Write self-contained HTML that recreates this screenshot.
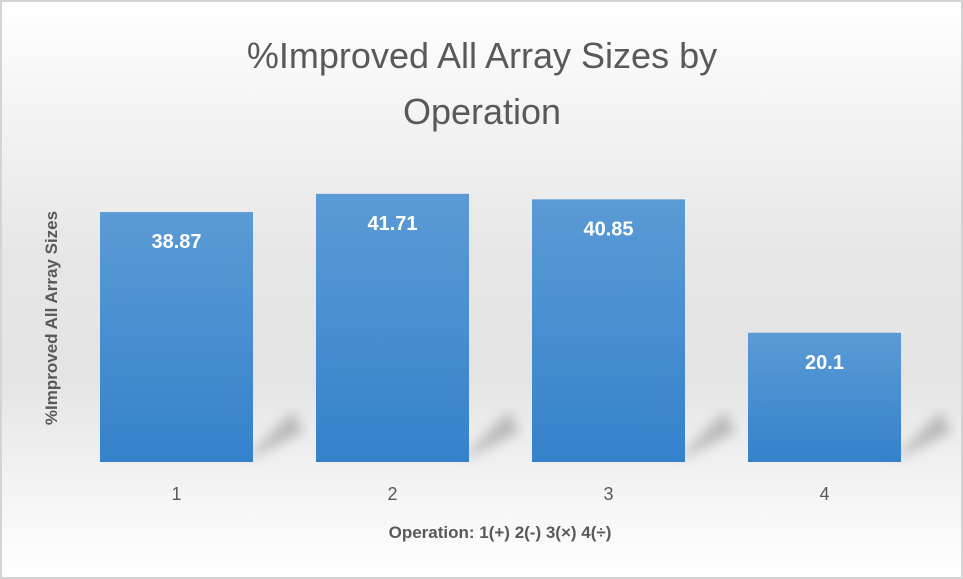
<!DOCTYPE html>
<html><head><meta charset="utf-8"><style>
html,body{margin:0;padding:0;}
body{width:963px;height:579px;overflow:hidden;font-family:"Liberation Sans",sans-serif;}
#frame{position:absolute;left:0;top:0;width:959px;height:575px;border:2px solid #d4d4d4;
background:linear-gradient(to bottom,#ffffff 0%,#f6f6f6 15%,#e6e6e6 45%,#e4e4e4 65%,#f4f4f4 85%,#ffffff 100%);}
</style></head><body>
<div id="frame"></div>
<svg id="chart" width="963" height="579" style="position:absolute;left:0;top:0">
<defs>
<linearGradient id="barg" x1="0" y1="0" x2="0" y2="1"><stop offset="0" stop-color="#5b9bd5"/><stop offset="1" stop-color="#3581cb"/></linearGradient>
<linearGradient id="shadowg" x1="0" y1="0" x2="0" y2="1"><stop offset="0" stop-color="#000" stop-opacity="0"/><stop offset="0.6" stop-color="#000" stop-opacity="0.22"/><stop offset="1" stop-color="#000" stop-opacity="0.05"/></linearGradient>
<filter id="blur"><feGaussianBlur stdDeviation="6"/></filter>
</defs>
<text x="482" y="68" text-anchor="middle" font-size="36" fill="#595959">%Improved All Array Sizes by</text>
<text x="482" y="124" text-anchor="middle" font-size="36" fill="#595959">Operation</text>
<text transform="translate(57,318) rotate(-90)" text-anchor="middle" font-size="17" font-weight="bold" fill="#595959">%Improved All Array Sizes</text>
<text x="500" y="538" text-anchor="middle" font-size="17" font-weight="bold" fill="#595959">Operation: 1(+) 2(-) 3(×) 4(÷)</text>
<g id="shadows"></g>
<g id="bars"></g>
</svg>
<script>
const categories = ["1","2","3","4"];
const values = [38.87, 41.71, 40.85, 20.1];
const valueLabels = ["38.87","41.71","40.85","20.1"];
const baseY = 462, pxPerUnit = 6.43;
const plotLeft = 100, slot = 216, barW = 153;
function xPos(i){return plotLeft + i*slot;}
function yPos(v){return baseY - v*pxPerUnit;}
const ns = "http://www.w3.org/2000/svg";
const g = document.getElementById('bars');
const sg = document.getElementById('shadows');
categories.forEach((c,i)=>{
  const x = xPos(i), y = yPos(values[i]);
  const sh = document.createElementNS(ns,'polygon');
  
  
  sh.setAttribute('points',`${x+barW-10},${baseY} ${x+barW+40},${baseY-50} ${x+barW+50},${baseY-30} ${x+barW},${baseY-5}`);
  sh.setAttribute('fill','#000'); sh.setAttribute('opacity','0.22'); sh.setAttribute('filter','url(#blur)');
  sg.appendChild(sh);
  const r = document.createElementNS(ns,'rect');
  
  
  r.setAttribute('x',x); r.setAttribute('y',y); r.setAttribute('width',barW); r.setAttribute('height',baseY-y);
  r.setAttribute('fill','url(#barg)');
  g.appendChild(r);
  const t = document.createElementNS(ns,'text');
  
  
  t.setAttribute('x',x+barW/2); t.setAttribute('y',y+36);
  t.setAttribute('text-anchor','middle'); t.setAttribute('font-size','20'); t.setAttribute('font-weight','bold'); t.setAttribute('fill','#fff');
  t.textContent = valueLabels[i];
  g.appendChild(t);
  const tk = document.createElementNS(ns,'text');
  
  
  tk.setAttribute('x',x+barW/2); tk.setAttribute('y',500);
  tk.setAttribute('text-anchor','middle'); tk.setAttribute('font-size','18'); tk.setAttribute('fill','#595959');
  tk.textContent = c;
  g.appendChild(tk);
});
</script>
</body></html>
